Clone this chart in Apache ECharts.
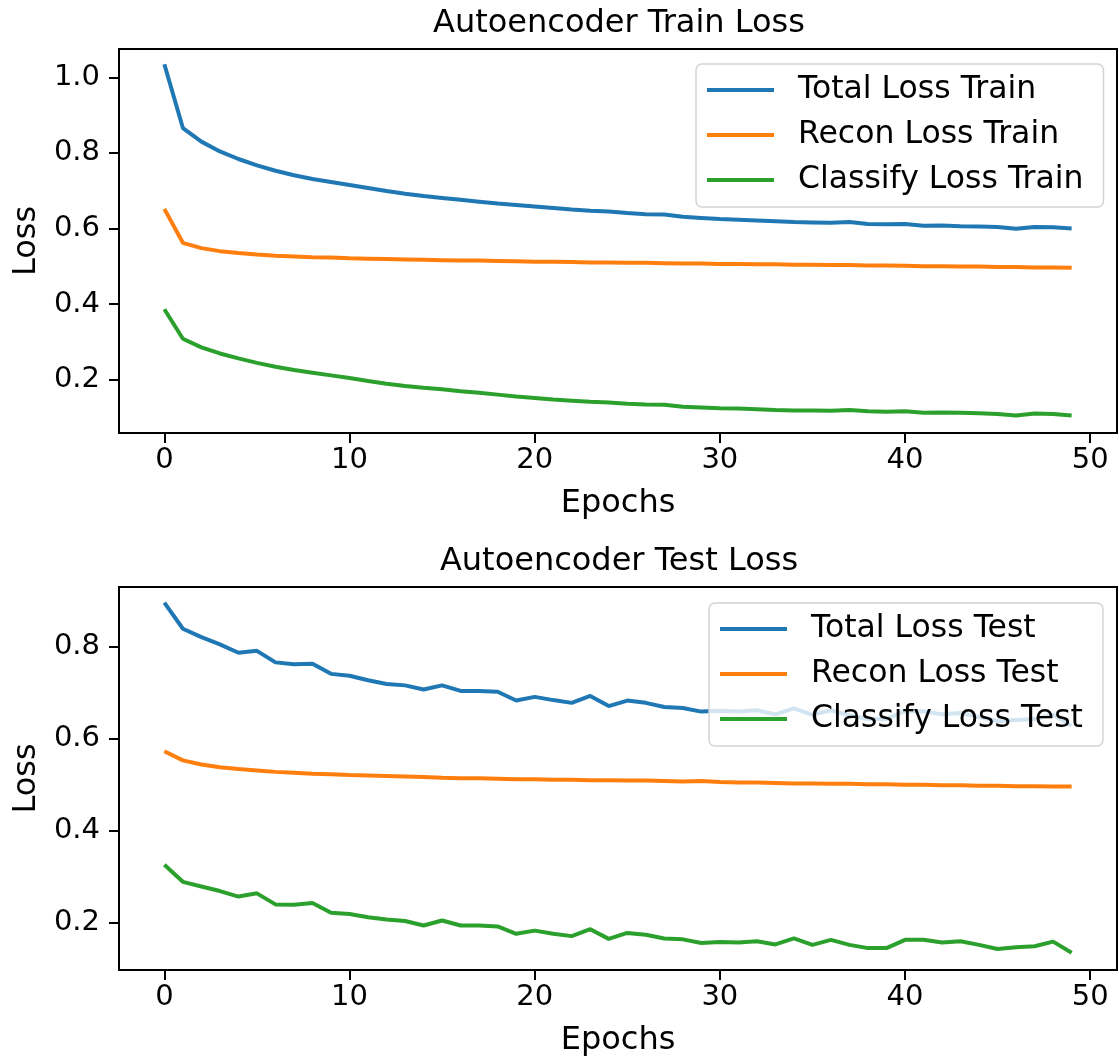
<!DOCTYPE html>
<html>
<head>
<meta charset="utf-8">
<script src="https://cdn.jsdelivr.net/npm/echarts@6/dist/echarts.min.js"></script>
<style>
html,body{margin:0;padding:0;background:#fff;}
#chart{width:1119px;height:1061px;}
</style>
</head>
<body>
<div id="chart"></div>
<script>
const epochs = [0,1,2,3,4,5,6,7,8,9,10,11,12,13,14,15,16,17,18,19,20,21,22,23,24,25,26,27,28,29,30,31,32,33,34,35,36,37,38,39,40,41,42,43,44,45,46,47,48,49];
const xTicks = [0,10,20,30,40,50];
const yTicksTrain = [0.2,0.4,0.6,0.8,1.0];
const yTicksTest = [0.2,0.4,0.6,0.8];

const totalTrain = [1.035,0.866,0.830,0.804,0.784,0.767,0.753,0.741,0.731,0.723,0.715,0.707,0.699,0.692,0.686,0.681,0.676,0.671,0.666,0.662,0.658,0.654,0.650,0.647,0.645,0.641,0.638,0.637,0.631,0.628,0.625,0.623,0.621,0.619,0.617,0.616,0.615,0.617,0.612,0.611,0.612,0.607,0.608,0.606,0.605,0.604,0.599,0.604,0.603,0.600];
const reconTrain = [0.652,0.562,0.548,0.540,0.535,0.531,0.528,0.526,0.524,0.523,0.521,0.520,0.519,0.518,0.517,0.516,0.515,0.515,0.514,0.513,0.512,0.512,0.511,0.510,0.510,0.509,0.509,0.508,0.507,0.507,0.506,0.506,0.505,0.505,0.504,0.504,0.503,0.503,0.502,0.502,0.501,0.500,0.500,0.499,0.499,0.498,0.498,0.497,0.497,0.496];
const classifyTrain = [0.386,0.308,0.285,0.269,0.256,0.244,0.234,0.225,0.218,0.211,0.204,0.196,0.189,0.183,0.178,0.174,0.169,0.165,0.160,0.155,0.151,0.147,0.144,0.141,0.139,0.136,0.134,0.133,0.128,0.126,0.124,0.123,0.121,0.119,0.118,0.118,0.117,0.119,0.116,0.115,0.116,0.112,0.113,0.112,0.111,0.109,0.105,0.110,0.109,0.105];

const totalTest = [0.895,0.838,0.820,0.804,0.786,0.790,0.765,0.761,0.762,0.740,0.736,0.726,0.718,0.715,0.706,0.715,0.703,0.703,0.701,0.682,0.690,0.683,0.677,0.692,0.670,0.682,0.677,0.668,0.666,0.658,0.660,0.658,0.661,0.652,0.665,0.651,0.661,0.650,0.642,0.642,0.659,0.659,0.652,0.655,0.646,0.637,0.640,0.642,0.651,0.627];
const reconTest = [0.572,0.552,0.543,0.537,0.533,0.530,0.527,0.525,0.523,0.522,0.520,0.519,0.518,0.517,0.516,0.514,0.513,0.513,0.512,0.511,0.511,0.510,0.510,0.509,0.509,0.508,0.508,0.507,0.506,0.507,0.505,0.504,0.504,0.503,0.502,0.502,0.501,0.501,0.500,0.500,0.499,0.499,0.498,0.498,0.497,0.497,0.496,0.496,0.495,0.495];
const classifyTest = [0.325,0.288,0.278,0.268,0.256,0.263,0.239,0.238,0.242,0.221,0.218,0.211,0.206,0.203,0.193,0.204,0.193,0.193,0.191,0.175,0.182,0.175,0.170,0.185,0.164,0.177,0.173,0.165,0.163,0.155,0.157,0.156,0.159,0.152,0.165,0.151,0.162,0.151,0.144,0.144,0.162,0.162,0.156,0.159,0.151,0.142,0.146,0.148,0.158,0.134];

const namesTrain = ['Total Loss Train','Recon Loss Train','Classify Loss Train'];
const namesTest = ['Total Loss Test','Recon Loss Test','Classify Loss Test'];
const colors = ['#1f77b4','#ff7f0e','#2ca02c'];

const FONT = 'DejaVu Sans';
const pairs = arr => epochs.map((e,i)=>[e, arr[i]]);

function xAxisDef(gi){
  return {
    type:'value', gridIndex:gi, min:-2.45, max:51.45,
    name:'Epochs', nameLocation:'middle', nameGap:55,
    nameTextStyle:{fontSize:32, fontFamily:FONT, color:'#000'},
    axisLine:{show:true, onZero:false, lineStyle:{color:'#000', width:2}},
    axisTick:{show:true, length:10, lineStyle:{color:'#000', width:2}, customValues:xTicks},
    axisLabel:{fontSize:29, fontFamily:FONT, color:'#000', margin:13, customValues:xTicks},
    splitLine:{show:false}
  };
}
function yAxisDef(gi, mn, mx, ticks){
  return {
    type:'value', gridIndex:gi, min:mn, max:mx,
    name:'Loss', nameLocation:'middle', nameGap:76,
    nameTextStyle:{fontSize:32, fontFamily:FONT, color:'#000'},
    axisLine:{show:true, onZero:false, lineStyle:{color:'#000', width:2}},
    axisTick:{show:true, length:10, lineStyle:{color:'#000', width:2}, customValues:ticks},
    axisLabel:{fontSize:29, fontFamily:FONT, color:'#000', margin:19, customValues:ticks,
      formatter: v => v.toFixed(1)},
    splitLine:{show:false}
  };
}
function legendDef(names, left, top){
  return {
    data:names, orient:'vertical', left:left, top:top,
    icon:'rect', itemWidth:67, itemHeight:4, itemGap:11,
    padding:[9,20,10,11],
    backgroundColor:'rgba(255,255,255,0.8)',
    borderColor:'#d4d4d4', borderWidth:1.5, borderRadius:6,
    textStyle:{fontSize:31.5, fontFamily:FONT, color:'#000', lineHeight:34, padding:[0,0,0,19]},
    selectedMode:false
  };
}
function lineSeries(name, arr, ci, gi){
  return {
    name:name, type:'line', xAxisIndex:gi, yAxisIndex:gi,
    data:pairs(arr), symbol:'none', showSymbol:false,
    lineStyle:{color:colors[ci], width:4}, itemStyle:{color:colors[ci]},
    silent:true, z:2
  };
}

const chart = echarts.init(document.getElementById('chart'), null, {renderer:'canvas'});
chart.setOption({
  animation:false,
  backgroundColor:'#fff',
  textStyle:{fontFamily:FONT},
  title:[
    {text:'Autoencoder Train Loss', left:614, top:3, textAlign:'center',
     textStyle:{fontSize:32, fontWeight:'normal', fontFamily:FONT, color:'#000'}},
    {text:'Autoencoder Test Loss', left:614, top:541, textAlign:'center',
     textStyle:{fontSize:32, fontWeight:'normal', fontFamily:FONT, color:'#000'}}
  ],
  grid:[
    {left:119, top:49, width:998, height:384, show:true, borderColor:'#000', borderWidth:2, backgroundColor:'transparent', containLabel:false},
    {left:119, top:587, width:998, height:383, show:true, borderColor:'#000', borderWidth:2, backgroundColor:'transparent', containLabel:false}
  ],
  xAxis:[xAxisDef(0), xAxisDef(1)],
  yAxis:[yAxisDef(0, 0.0584, 1.0753, yTicksTrain), yAxisDef(1, 0.0964, 0.9288, yTicksTest)],
  legend:[legendDef(namesTrain, 696, 64), legendDef(namesTest, 709, 603)],
  series:[
    lineSeries(namesTrain[0], totalTrain, 0, 0),
    lineSeries(namesTrain[1], reconTrain, 1, 0),
    lineSeries(namesTrain[2], classifyTrain, 2, 0),
    lineSeries(namesTest[0], totalTest, 0, 1),
    lineSeries(namesTest[1], reconTest, 1, 1),
    lineSeries(namesTest[2], classifyTest, 2, 1)
  ]
});
</script>
</body>
</html>
